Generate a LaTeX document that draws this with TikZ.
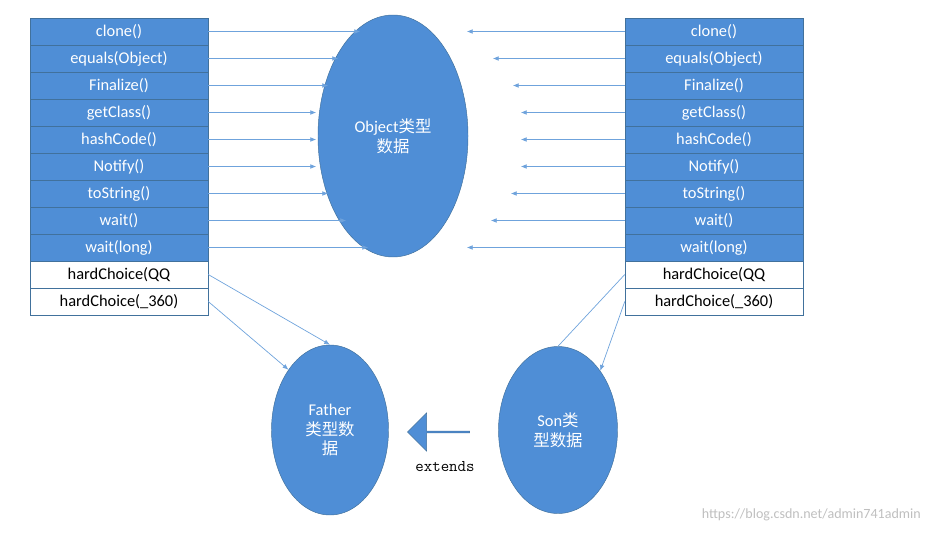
\documentclass[tikz,border=0pt]{standalone}
\usepackage{fontspec}
\setmainfont{Carlito}
\newfontfamily\cjk{Noto Sans CJK SC}
\usetikzlibrary{shapes.arrows,arrows.meta}
\definecolor{objblue}{HTML}{4F8ED6}
\definecolor{edgeblue}{HTML}{41719C}
\definecolor{lineblue}{HTML}{6FA3DC}
\tikzset{
  cell/.style={draw=edgeblue, fill=objblue, text=white, minimum width=178*0.03cm,
    minimum height=27*0.03cm, inner sep=0pt, font=\fontsize{14}{16}\selectfont},
  wcell/.style={cell, fill=white, text=black},
  blob/.style={ellipse, draw=edgeblue, fill=objblue, text=white, inner sep=0pt,
    align=center, font=\fontsize{14}{17}\selectfont},
  arr/.style={-{Latex[length=5pt,width=4pt]}, draw=lineblue, line width=0.6pt},
  ln/.style={draw=lineblue, line width=0.6pt}
}
\usetikzlibrary{shapes.geometric}
\begin{document}
\begin{tikzpicture}[x=0.03cm,y=-0.03cm]
    \useasboundingbox (0,0) rectangle (931,534);

    % method tables
    \foreach \t [count=\i] in {clone(),equals(Object),Finalize(),getClass(),hashCode(),Notify(),toString(),wait(),wait(long)} {
        \node[cell] (l\i) at (119,{18+27*(\i-0.5)}) {\t};
        \node[cell] (r\i) at (714,{18+27*(\i-0.5)}) {\t};
    }
    \node[wcell] (l10) at (119,{18+27*9.5}) {hardChoice(QQ};
    \node[wcell] (l11) at (119,{18+27*10.5}) {hardChoice(\_360)};
    \node[wcell] (r10) at (714,{18+27*9.5}) {hardChoice(QQ};
    \node[wcell] (r11) at (714,{18+27*10.5}) {hardChoice(\_360)};

    % data objects
    \node[blob, minimum width=150*0.03cm, minimum height=242*0.03cm] (obj) at (393,136)
        {Object{\cjk 类型}\\{\cjk 数据}};
    \node[blob, minimum width=117*0.03cm, minimum height=170*0.03cm] (father) at (330,430)
        {Father\\{\cjk 类型数}\\{\cjk 据}};
    \node[blob, minimum width=119*0.03cm, minimum height=167*0.03cm] (son) at (558,430)
        {Son{\cjk 类}\\{\cjk 型数据}};

    % calls into Object
    \foreach \i/\a/\b in {1/152/158,2/130/132,3/120/112,4/108/104,5/108/104,6/108/104,7/120/114,8/138/134,9/160/158} {
        \draw[arr] (l\i.east) -- ++(\a,0);
        \draw[arr] (r\i.west) -- ++(-\b,0);
    }

    % own methods
    \draw[arr] (l10.east) -- (father.north);
    \draw[arr] (l11.east) -- (father.north west);
    \draw[ln] (r10.west) -- (son.north);
    \draw[arr] (r11.west) -- (son.north east);

    % inheritance
    \node[single arrow, shape border rotate=180, draw=edgeblue, fill=objblue,
        minimum width=38*0.03cm, minimum height=62*0.03cm, single arrow head extend=4pt,
        inner sep=0pt] (ext) at (439,432) {};
    \node[font=\ttfamily\fontsize{14}{16}\selectfont] (extlbl) at (445,467) {extends};

    \node[text=black!25, font=\fontsize{12}{14}\selectfont, anchor=east] (wm) at (925,515)
        {https://blog.csdn.net/admin741admin};
\end{tikzpicture}
\end{document}
